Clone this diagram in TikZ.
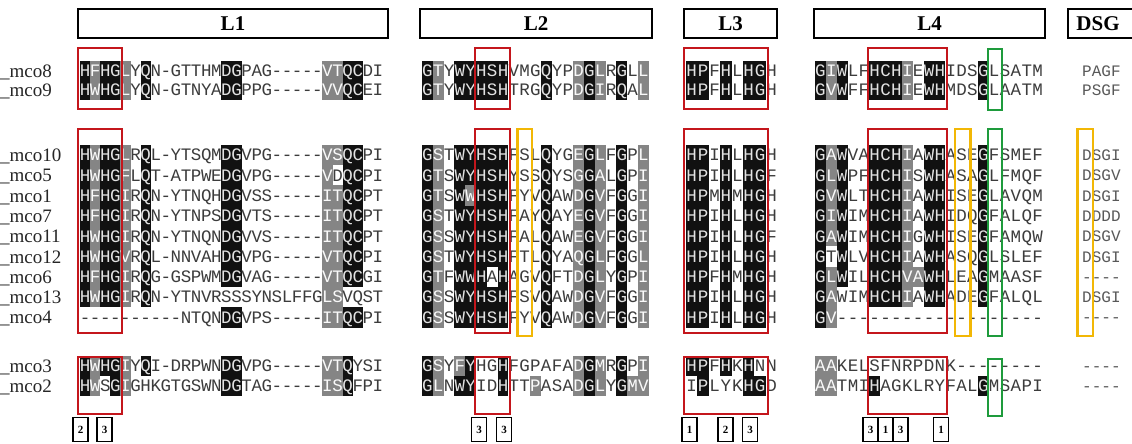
\documentclass[tikz,border=0pt]{standalone}
\usepackage{fontspec}
\newfontfamily\seqfont{Liberation Mono}
\newfontfamily\serfont{Liberation Serif}
\definecolor{shb}{HTML}{111111}
\definecolor{shg}{HTML}{858585}
\definecolor{onb}{HTML}{E2E2E2}
\definecolor{ong}{HTML}{FAFAFA}
\definecolor{onn}{HTML}{3C3C3C}
\definecolor{boxred}{HTML}{C4161C}
\definecolor{boxyellow}{HTML}{F2B705}
\definecolor{boxgreen}{HTML}{1E9B3C}
\tikzset{
  seq/.style={inner sep=0pt, anchor=base, font=\seqfont\fontsize{17.5}{17.5}\selectfont},
  dsg/.style={inner sep=0pt, anchor=base west, font=\seqfont\fontsize{16}{16}\selectfont, text=black!65},
  nm/.style={inner sep=0pt, anchor=base west, font=\serfont\fontsize{19}{19}\selectfont, text=black!85},
  hdr/.style={draw, line width=2.2pt},
  hdrtxt/.style={inner sep=0pt, font=\serfont\bfseries\fontsize{21}{21}\selectfont},
  redbox/.style={draw=boxred, line width=2pt},
  ylwbox/.style={draw=boxyellow, line width=2.4pt},
  grnbox/.style={draw=boxgreen, line width=2pt},
  lab/.style={draw, line width=1.3pt, minimum width=15pt, minimum height=24pt, inner sep=0pt, fill=white, font=\serfont\bfseries\fontsize{11}{11}\selectfont},
}
\newcommand\hh{10.15}
\newcommand\mycell[6]{%
  \pgfmathsetmacro\cx{#1+(#4-1)*#2}%
  \if b#6\relax
    \fill[shb] (\cx,#3-\hh) rectangle ++(#2,2*\hh);
    \node[seq,text=onb] at (\cx+#2/2,#3+5.8) {#5};%
  \else\if g#6\relax
    \fill[shg] (\cx,#3-\hh) rectangle ++(#2,2*\hh);
    \node[seq,text=ong] at (\cx+#2/2,#3+5.8) {#5};%
  \else
    \node[seq,text=onn] at (\cx+#2/2,#3+5.8) {#5};%
  \fi\fi
}
\ExplSyntaxOn
\cs_new_protected:Npn \rs_cell:nnnnnn #1#2#3#4#5#6 { \mycell{#1}{#2}{#3}{#4}{#5}{#6} }
\cs_generate_variant:Nn \rs_cell:nnnnnn { nnnnee }
\NewDocumentCommand \seqrow { m m m m m }
  {
    \int_step_inline:nn { \tl_count:n {#4} }
      {
        \rs_cell:nnnnee {#1}{#2}{#3}{##1}
          { \tl_item:nn {#4} {##1} }
          { \tl_item:nn {#5} {##1} }
      }
  }
\ExplSyntaxOff
% block parameters: L1 80/10.1, L2 422/10.8, L3 686/11.4, L4 815/10.86
\newcommand\Lone[3]{\seqrow{80}{10.1}{#1}{#2}{#3}}
\newcommand\Ltwo[3]{\seqrow{422}{10.8}{#1}{#2}{#3}}
\newcommand\Lthree[3]{\seqrow{686}{11.4}{#1}{#2}{#3}}
\newcommand\Lfour[3]{\seqrow{815}{10.86}{#1}{#2}{#3}}
% row positions
\newcommand\ya{71}      % mco8
\newcommand\yb{90}      % mco9
\newcommand\yc{155}     % mco10
\newcommand\yd{175.3}   % mco5
\newcommand\ye{195.6}   % mco1
\newcommand\yf{215.9}   % mco7
\newcommand\yg{236.2}   % mco11
\newcommand\yh{256.5}   % mco12
\newcommand\yi{276.8}   % mco6
\newcommand\yj{297.1}   % mco13
\newcommand\yk{317.4}   % mco4
\newcommand\yl{366}     % mco3
\newcommand\ym{386}     % mco2
\newcommand\nmrow[3]{\node[nm] (n#1) at (0,#2+6.5) {\_mco#1};\node[dsg] (d#1) at (1082,#2+5.5) {#3};}
\begin{document}
\begin{tikzpicture}[x=1pt,y=-1pt]
\useasboundingbox[fill=white] (0,0) rectangle (1132,444);
% headers
\draw[hdr] (78,9) rectangle (388,38);
\node[hdrtxt] (hL1) at (233,24) {L1};
\draw[hdr] (420,9) rectangle (652,38);
\node[hdrtxt] (hL2) at (536,24) {L2};
\draw[hdr] (684,9) rectangle (777,38);
\node[hdrtxt] (hL3) at (730.5,24) {L3};
\draw[hdr] (814,9) rectangle (1045,38);
\node[hdrtxt] (hL4) at (929.5,24) {L4};
\draw[hdr] (1068,9) rectangle (1145,38);
\node[hdrtxt] (hDSG) at (1098,24) {DSG};
% names and DSG column
\nmrow{8}{\ya}{PAGF}
\nmrow{9}{\yb}{PSGF}
\nmrow{10}{\yc}{DSGI}
\nmrow{5}{\yd}{DSGV}
\nmrow{1}{\ye}{DSGI}
\nmrow{7}{\yf}{DDDD}
\nmrow{11}{\yg}{DSGV}
\nmrow{12}{\yh}{DSGI}
\nmrow{6}{\yi}{----}
\nmrow{13}{\yj}{DSGI}
\nmrow{4}{\yk}{----}
\nmrow{3}{\yl}{----}
\nmrow{2}{\ym}{----}
% ---- L1
\Lone{\ya}{HFHGLYQN-GTTHMDGPAG-----VTQCDI}{bgbbg.b.......bb........ggbb..}
\Lone{\yb}{HWHGLYQN-GTNYADGPPG-----VVQCEI}{bgbbg.b.......bb........ggbb..}
\Lone{\yc}{HWHGLRQL-YTSQMDGVPG-----VSQCPI}{bgbbg.b.......bb........ggbb..}
\Lone{\yd}{HWHGFLQT-ATPWEDGVPG-----VDQCPI}{bgbbg.b.......bb........g.bb..}
\Lone{\ye}{HFHGIRQN-YTNQHDGVSS-----ITQCPT}{bgbbg.b.......bb........ggbb..}
\Lone{\yf}{HFHGIRQN-YTNPSDGVTS-----ITQCPT}{bgbbg.b.......bb........ggbb..}
\Lone{\yg}{HWHGIRQN-YTNQNDGVVS-----ITQCPT}{bgbbg.b.......bb........ggbb..}
\Lone{\yh}{HWHGVRQL-NNVAHDGVPG-----VTQCPI}{bgbbg.b.......bb........ggbb..}
\Lone{\yi}{HFHGIRQG-GSPWMDGVAG-----VTQCGI}{bgbbg.b.......bb........ggbb..}
\Lone{\yj}{HWHGIRQN-YTNVRSSSYNSLFFGLSVQST}{bgbbg.b.................gg....}
\Lone{\yk}{----------NTQNDGVPS-----ITQCPI}{..............bb........ggbb..}
\Lone{\yl}{HWHGIYQI-DRPWNDGVPG-----VTQYSI}{bgbbg.b.......bb........ggb...}
\Lone{\ym}{HWSGIGHKGTGSWNDGTAG-----ISQFPI}{bg.bg.........bb........ggb...}
% ---- L2
\Ltwo{\ya}{GTYWYHSHVMGQYPDGLRGLL}{bg.bbbbb...b..gbg.b.g}
\Ltwo{\yb}{GTYWYHSHTRGQYPDGIRQAL}{bg.bbbbb...b..gbg.b.g}
\Ltwo{\yc}{GSTWYHSHFSLQYGEGLFGPL}{bg.bbbbb...b..gbg.b.g}
\Ltwo{\yd}{GTSWYHSHYSSQYSGGALGPI}{bg.bbbbb...b..gbg.b.g}
\Ltwo{\ye}{GTSWWHSHFYVQAWDGVFGGI}{bg.bgbbb...b..gbg.b.g}
\Ltwo{\yf}{GSTWYHSHFAYQAYEGVFGGI}{bg.bbbbb...b..gbg.b.g}
\Ltwo{\yg}{GSSWYHSHFALQAWEGVFGGI}{bg.bbbbb...b..gbg.b.g}
\Ltwo{\yh}{GSTWYHSHFTLQYAQGLFGGL}{bg.bbbbb...b..gbg.b.g}
\Ltwo{\yi}{GTFWWHAHAGVQFTDGLYGPI}{bg.bbb.b...b..gbg.b.g}
\Ltwo{\yj}{GSSWYHSHFSVQAWDGVFGGI}{bg.bbbbb...b..gbg.b.g}
\Ltwo{\yk}{GSSWYHSHFYVQAWDGVFGGI}{bg.bbbbb...b..gbg.b.g}
\Ltwo{\yl}{GSYFYHGHFGPAFADGMRGPI}{bg.gb..b......gbg.b.g}
\Ltwo{\ym}{GLNWYIDHTTPASADGLYGMV}{bg.bb..b..g...gbg.bgg}
% ---- L3
\Lthree{\ya}{HPFHLHGH}{bb.b.bb.}
\Lthree{\yb}{HPFHLHGH}{bb.b.bb.}
\Lthree{\yc}{HPIHLHGH}{bb.b.bb.}
\Lthree{\yd}{HPIHLHGF}{bb.b.bb.}
\Lthree{\ye}{HPMHMHGH}{bb.b.bb.}
\Lthree{\yf}{HPIHLHGH}{bb.b.bb.}
\Lthree{\yg}{HPIHLHGF}{bb.b.bb.}
\Lthree{\yh}{HPIHLHGH}{bb.b.bb.}
\Lthree{\yi}{HPFHMHGH}{bb.b.bb.}
\Lthree{\yj}{HPIHLHGH}{bb.b.bb.}
\Lthree{\yk}{HPIHLHGH}{bb.b.bb.}
\Lthree{\yl}{HPFHKHNN}{bb.b.b..}
\Lthree{\ym}{IPLYKHGD}{.b...bb.}
% ---- L4
\Lfour{\ya}{GIWLFHCHIEWHIDSGLSATM}{bgb..bbbg.bb...b.....}
\Lfour{\yb}{GVWFFHCHIEWHMDSGLAATM}{bgb..bbbg.bb...b.....}
\Lfour{\yc}{GAWVAHCHIAWHASEGFSMEF}{bgb..bbbg.bb...b.....}
\Lfour{\yd}{GLWPFHCHISWHASAGLFMQF}{bgb..bbbg.bb...b.....}
\Lfour{\ye}{GVWLTHCHIAWHISEGLAVQM}{bgb..bbbg.bb...b.....}
\Lfour{\yf}{GIWIMHCHIAWHIDQGFALQF}{bgb..bbbg.bb...b.....}
\Lfour{\yg}{GAWIMHCHIGWHISEGFAMQW}{bgb..bbbg.bb...b.....}
\Lfour{\yh}{GTWLVHCHIAWHASQGLSLEF}{b.b..bbbg.bb...b.....}
\Lfour{\yi}{GLWILHCHVAWHLEAGMAASF}{bgb..bbbggbb...b.....}
\Lfour{\yj}{GAWIMHCHIAWHADEGFALQL}{bg...bbbg.bb...b.....}
\Lfour{\yk}{GV-------------------}{bg...................}
\Lfour{\yl}{AAKELSFNRPDNK--------}{gg...................}
\Lfour{\ym}{AATMIHAGKLRYFALGMSAPI}{gg...b.........b.....}
% ---- red boxes
\foreach \ta/\tb in {48/109, 129/333, 357/414} {
  \draw[redbox] (78,\ta) rectangle (122,\tb);
  \draw[redbox] (474.5,\ta) rectangle (510,\tb);
  \draw[redbox] (684,\ta) rectangle (768,\tb);
  \draw[redbox] (868,\ta) rectangle (947,\tb);
}
% ---- yellow boxes
\draw[ylwbox] (517.5,129) rectangle (532,336);
\draw[ylwbox] (955,129) rectangle (970.5,336);
\draw[ylwbox] (1077.5,129) rectangle (1093,336);
% ---- green boxes
\draw[grnbox] (987.5,49) rectangle (1001.5,110);
\draw[grnbox] (987.5,129) rectangle (1001.5,336);
\draw[grnbox] (987.5,359) rectangle (1001.5,416);
% ---- numbered labels
\node[lab] (a1) at (80.5,429.5) {2};
\node[lab] (a2) at (104.5,429.5) {3};
\node[lab] (b1) at (479,429.5) {3};
\node[lab] (b2) at (504,429.5) {3};
\node[lab] (c1) at (689.5,429.5) {1};
\node[lab] (c2) at (725.5,429.5) {2};
\node[lab] (c3) at (750,429.5) {3};
\node[lab] (e1) at (870.5,429.5) {3};
\node[lab] (e2) at (885.5,429.5) {1};
\node[lab] (e3) at (900.5,429.5) {3};
\node[lab] (e4) at (941,429.5) {1};
\end{tikzpicture}
\end{document}
